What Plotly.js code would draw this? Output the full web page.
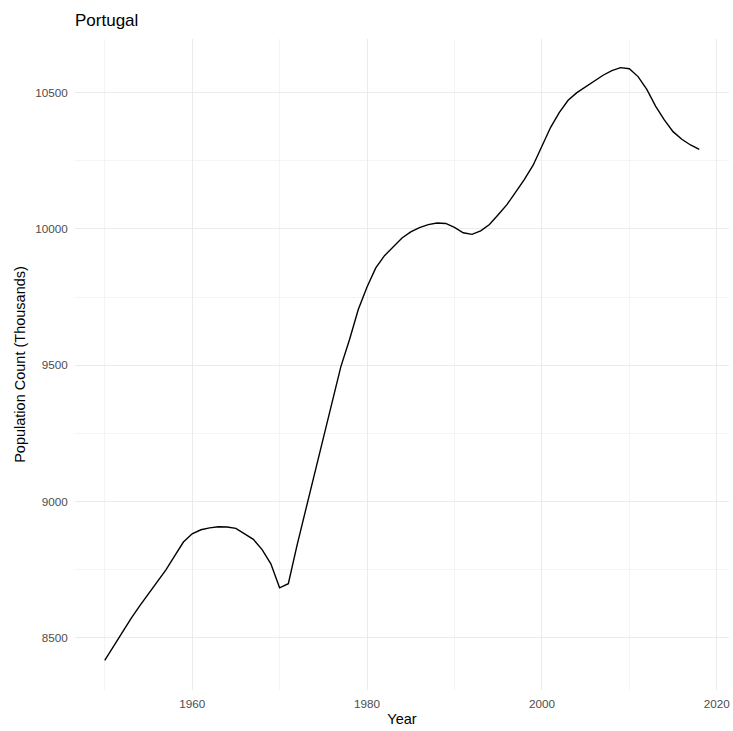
<!DOCTYPE html>
<html>
<head>
<meta charset="utf-8">
<script src="https://cdn.plot.ly/plotly-3.0.1.min.js"></script>
<style>html,body{margin:0;padding:0;background:#fff;}#chart{width:733px;height:731px;}</style>
</head>
<body>
<div id="chart"></div>
<script>
const years = [1950,1951,1952,1953,1954,1955,1956,1957,1958,1959,
  1960,1961,1962,1963,1964,1965,1966,1967,1968,1969,
  1970,1971,1972,1973,1974,1975,1976,1977,1978,1979,
  1980,1981,1982,1983,1984,1985,1986,1987,1988,1989,
  1990,1991,1992,1993,1994,1995,1996,1997,1998,1999,
  2000,2001,2002,2003,2004,2005,2006,2007,2008,2009,
  2010,2011,2012,2013,2014,2015,2016,2017,2018];
const population = [8417,8469,8521,8570,8617,8662,8706,8749,8800,8851,
  8881,8896,8903,8907,8906,8901,8881,8861,8823,8771,
  8683,8698,8840,8973,9103,9233,9364,9494,9594,9704,
  9787,9857,9902,9936,9967,9989,10005,10016,10022,10020,
  10006,9986,9980,9993,10016,10052,10089,10135,10182,10234,
  10302,10373,10428,10472,10500,10522,10543,10564,10581,10592,
  10588,10559,10512,10451,10400,10357,10329,10308,10292];
const xTicks = [1960,1980,2000,2020];
const yTicks = [8500,9000,9500,10000,10500];

const font = 'Liberation Sans, Arial, sans-serif';
Plotly.newPlot('chart', [{
  x: years, y: population, type: 'scatter', mode: 'lines',
  line: {color: '#000000', width: 1.4}, hoverinfo: 'x+y'
}], {
  width: 733, height: 731,
  margin: {l: 75, r: 4, t: 39, b: 41},
  paper_bgcolor: '#ffffff', plot_bgcolor: '#ffffff',
  showlegend: false,
  title: {text: 'Portugal', x: 75/733, xanchor: 'left', y: 1 - 20/731, yanchor: 'middle',
    font: {family: font, size: 17, color: '#000000'}},
  xaxis: {
    range: [1946.6, 2021.4], tickmode: 'array', tickvals: xTicks, ticktext: xTicks.map(String),
    showgrid: true, gridcolor: '#EBEBEB', gridwidth: 1, zeroline: false, showline: false,
    ticks: 'outside', ticklen: 3, tickcolor: 'rgba(0,0,0,0)',
    tickfont: {family: font, size: 11.7, color: '#4D4D4D'},
    minor: {tickmode: 'array', tickvals: [1950,1970,1990,2010], showgrid: true, gridcolor: '#EFEFEF', gridwidth: 0.7, ticks: ''},
    title: {text: 'Year', font: {family: font, size: 14.5, color: '#000000'}, standoff: 4}
  },
  yaxis: {
    range: [8308, 10697], tickmode: 'array', tickvals: yTicks, ticktext: yTicks.map(String),
    showgrid: true, gridcolor: '#EBEBEB', gridwidth: 1, zeroline: false, showline: false,
    ticks: 'outside', ticklen: 4, tickcolor: 'rgba(0,0,0,0)',
    tickfont: {family: font, size: 11.7, color: '#4D4D4D'},
    minor: {tickmode: 'array', tickvals: [8750,9250,9750,10250], showgrid: true, gridcolor: '#EFEFEF', gridwidth: 0.7, ticks: ''},
    title: {text: 'Population Count (Thousands)', font: {family: font, size: 14.5, color: '#000000'}, standoff: 6}
  }
}, {displayModeBar: false, staticPlot: true});
</script>
</body>
</html>
